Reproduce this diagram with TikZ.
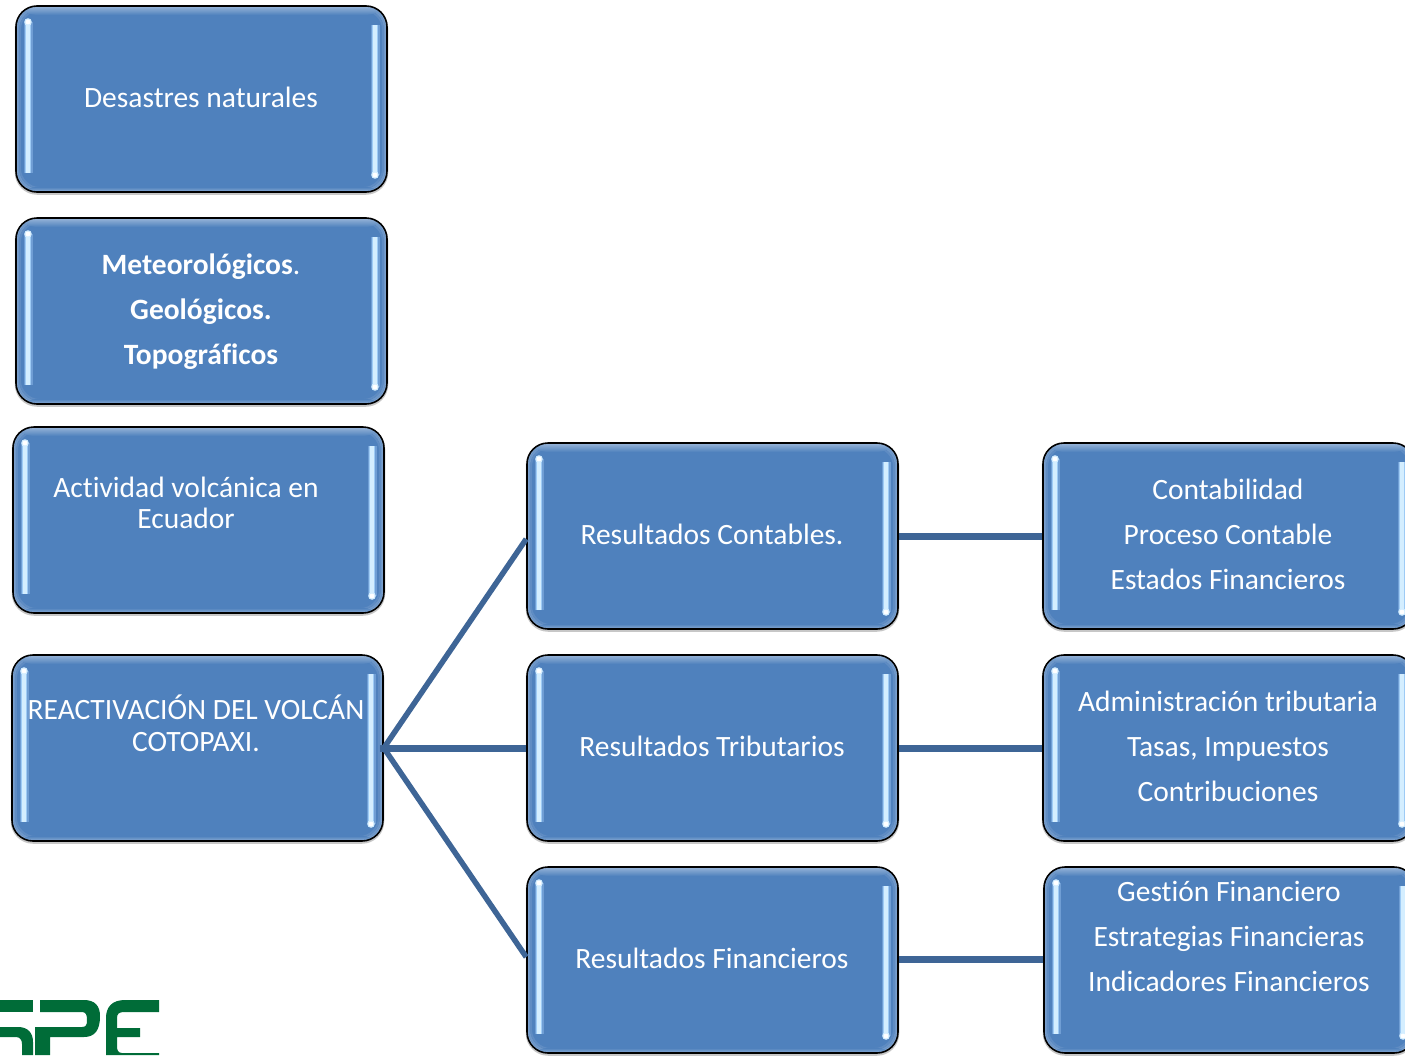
\documentclass[tikz,border=0pt]{standalone}
\usepackage{fontspec}
\setmainfont[Ligatures=NoCommon]{Carlito}
\definecolor{panelblue}{RGB}{79,129,189}
\definecolor{linkblue}{RGB}{62,101,150}
\definecolor{logogreen}{RGB}{0,108,56}
\definecolor{glowa}{RGB}{112,158,212}
\definecolor{glowb}{RGB}{158,203,245}
\definecolor{glowc}{RGB}{212,238,255}
\tikzset{
  panel/.style={
    shape=rectangle,draw=black,line width=1.6pt,rounded corners=21pt,fill=panelblue,
    minimum width=371pt,minimum height=186pt,inner sep=0pt,
    preaction={draw=black!22,line width=2.5pt,transform canvas={yshift=-1.5pt}},
    path picture={
      \foreach \d/\c in {1/28,2.5/18,4/9}{
        \draw[white!\c!panelblue,line width=1.8pt,rounded corners=20pt]
          ([shift={(\d pt,-\d pt)}]path picture bounding box.north west) rectangle
          ([shift={(-\d pt,\d pt)}]path picture bounding box.south east);
      }
      \shade[top color=white!42!panelblue,bottom color=panelblue]
        (path picture bounding box.north west) rectangle
        ([yshift=-9pt]path picture bounding box.north east);
      \shade[top color=panelblue,bottom color=white!35!panelblue]
        ([yshift=5pt]path picture bounding box.south west) rectangle
        (path picture bounding box.south east);
      \foreach \w/\c in {9/glowa,6/glowb,3.4/glowc}{
        \draw[\c,line width=\w pt]
          ([shift={(12pt,-16pt)}]path picture bounding box.north west) --
          ([shift={(12pt,19pt)}]path picture bounding box.south west);
        \draw[\c,line width=\w pt]
          ([shift={(-12pt,-19pt)}]path picture bounding box.north east) --
          ([shift={(-12pt,17pt)}]path picture bounding box.south east);
      }
      \fill[glowc] ([shift={(12pt,-16pt)}]path picture bounding box.north west) circle (3.8pt);
      \fill[white] ([shift={(12pt,-16pt)}]path picture bounding box.north west) circle (2.4pt);
      \fill[glowc] ([shift={(-12pt,17pt)}]path picture bounding box.south east) circle (3.8pt);
      \fill[white] ([shift={(-12pt,17pt)}]path picture bounding box.south east) circle (2.4pt);
    }},
  paneltext/.style={text=white,align=center,inner sep=0pt,
    font=\fontsize{29.5}{#1}\selectfont},
  paneltext/.default=45,
  link/.style={draw=linkblue,line width=7pt},
  slant/.style={draw=linkblue,line width=5.5pt}
}
\begin{document}
\begin{tikzpicture}[x=1pt,y=-1pt]
\useasboundingbox (0,0) rectangle (1405,1055);
\clip (0,0) rectangle (1405,1055);

\node[panel] (b1) at (201.5,99)  {};
\node[panel] (b2) at (201.5,311) {};
\node[panel] (b3) at (198.5,520) {};
\node[panel] (b4) at (197.5,748) {};
\node[panel] (m1) at (712.5,536) {};
\node[panel] (m2) at (712.5,748) {};
\node[panel] (m3) at (712.5,960) {};
\node[panel] (r1) at (1228.5,536) {};
\node[panel] (r2) at (1228.5,748) {};
\node[panel] (r3) at (1229.5,960) {};

\draw[link,shorten <=-4pt] (b4.east) -- (m2.west);
\draw[slant,shorten <=-3pt] (b4.east) -- ([yshift=-3pt]m1.west);
\draw[slant,shorten <=-3pt] (b4.east) -- ([yshift=3pt]m3.west);
\draw[link] (m1.east) -- (r1.west);
\draw[link] (m2.east) -- (r2.west);
\draw[link] ([yshift=1pt]m3.east) -- ([yshift=1pt]r3.west);

\node[paneltext] (t1) at (201,97.5) {Desastres naturales};
\node[paneltext] (t2) at (201,311.5) {\textbf{Meteorológicos}.\\\textbf{Geológicos.}\\\textbf{Topográficos}};
\node[paneltext=31.5] (t3) at (186,503) {Actividad volcánica en\\Ecuador};
\node[paneltext=31.5] (t4) at (196,723.5) {REACTIVACIÓN DEL VOLCÁN\\COTOPAXI.};
\node[paneltext] (t5) at (712,534.5) {Resultados Contables.};
\node[paneltext] (t6) at (712,746.5) {Resultados Tributarios};
\node[paneltext] (t7) at (712,958.5) {Resultados Financieros};
\node[paneltext] (t8) at (1228,534.5) {Contabilidad\\Proceso Contable\\Estados Financieros};
\node[paneltext] (t9) at (1228,746.5) {Administración tributaria\\Tasas, Impuestos\\Contribuciones};
\node[paneltext] (t10) at (1229,936) {Gestión Financiero\\Estrategias Financieras\\Indicadores Financieros};

% cropped logo lettering
\fill[logogreen] (0,1000) -- (33,1000) -- (33,1012) -- (0,1012) -- cycle;
\fill[logogreen] (0,1027) -- (18,1027) .. controls (28,1027) and (33,1033) .. (33,1042)
  -- (33,1055) -- (22,1055) -- (22,1044) .. controls (22,1040) and (20,1037) .. (16,1037) -- (0,1037) -- cycle;
\fill[logogreen] (40,1000) -- (84,1000) .. controls (95,1000) and (100,1006) .. (100,1016)
  .. controls (100,1030) and (95,1037) .. (84,1037) -- (50,1037) -- (50,1055) -- (35,1055)
  -- (35,1027) -- (82,1027) .. controls (86,1027) and (87,1025) .. (87,1020)
  .. controls (87,1015) and (86,1012) .. (82,1012) -- (40,1012) -- cycle;
\fill[logogreen] (159,1000) -- (125,1000) .. controls (112,1000) and (106,1007) .. (106,1018)
  -- (106,1055) -- (159,1055) -- (159,1053) -- (122,1053) .. controls (118,1053) and (117,1050) .. (117,1046)
  -- (117,1037) -- (140,1037) -- (140,1028) -- (117,1028) -- (117,1018)
  .. controls (117,1014) and (119,1012) .. (124,1012) -- (159,1012) -- cycle;
\end{tikzpicture}
\end{document}
